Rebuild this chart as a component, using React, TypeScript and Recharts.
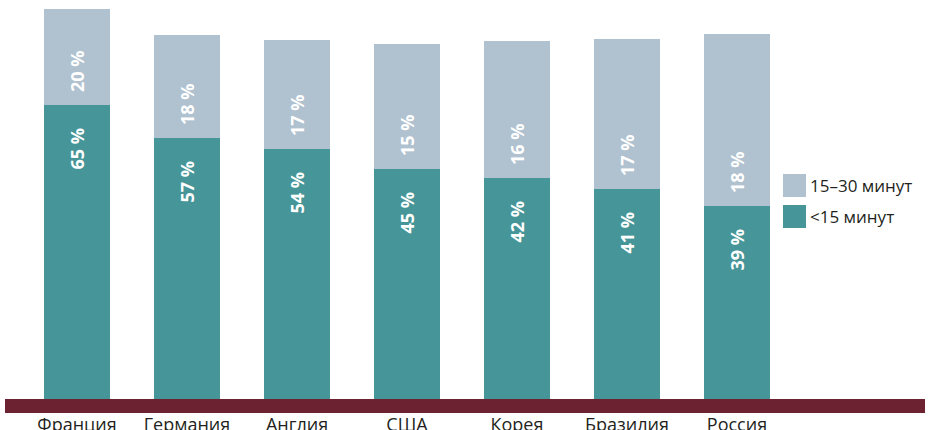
import React from 'react';
import { BarChart, Bar, XAxis, YAxis, Legend, LabelList } from 'recharts';

// Categories (countries)
const categories = ['Франция', 'Германия', 'Англия', 'США', 'Корея', 'Бразилия', 'Россия'];
// Drawn bar segment heights (the picture is not drawn to scale)
const under15Heights = [294, 261, 250, 230, 221, 210, 193];
const from15to30Heights = [96, 103, 109, 125, 137, 150, 172];
// Printed values
const under15Labels = ['65 %', '57 %', '54 %', '45 %', '42 %', '41 %', '39 %'];
const from15to30Labels = ['20 %', '18 %', '17 %', '15 %', '16 %', '17 %', '18 %'];
const seriesNames = ['<15 минут', '15–30 минут'];

const TEAL = '#469598';
const GREY = '#B0C1CF';
const MAROON = '#6C2230';
const FONT = '"Open Sans", "Noto Sans", sans-serif';

const data = categories.map((c, i) => ({
  name: c,
  low: under15Heights[i],
  high: from15to30Heights[i],
  lowLabel: under15Labels[i],
  highLabel: from15to30Labels[i],
}));

const LowLabel = (p: any) => {
  const cx = p.x + p.width / 2;
  const ty = p.y + 23;
  return (
    <text x={cx} y={ty} transform={`rotate(-90 ${cx} ${ty})`} textAnchor="end" dominantBaseline="central"
      fill="#fff" fontWeight={700} fontSize={18} fontFamily={FONT}>{p.value}</text>
  );
};

const HighLabel = (p: any) => {
  const cx = p.x + p.width / 2;
  const ty = p.y + p.height - 13;
  return (
    <text x={cx} y={ty} transform={`rotate(-90 ${cx} ${ty})`} textAnchor="start" dominantBaseline="central"
      fill="#fff" fontWeight={700} fontSize={18} fontFamily={FONT}>{p.value}</text>
  );
};

const CategoryTick = (p: any) => (
  <text x={p.x} y={p.y + 32} textAnchor="middle" fill="#231f20" fontSize={18} fontFamily={FONT}>
    {p.payload.value}
  </text>
);

const legendItems = [
  { label: seriesNames[1], color: GREY },
  { label: seriesNames[0], color: TEAL },
];

const LegendContent = () => (
  <div style={{ fontFamily: FONT, fontSize: 17, color: '#231f20' }}>
    {legendItems.map((it) => (
      <div key={it.label} style={{ display: 'flex', alignItems: 'center', height: 23, marginBottom: 8 }}>
        <div style={{ width: 23, height: 23, background: it.color, marginRight: 4 }} />
        <span style={{ lineHeight: '23px' }}>{it.label}</span>
      </div>
    ))}
  </div>
);

export default function App() {
  return (
    <div style={{ position: 'absolute', left: 0, top: 0, width: 932, height: 430, background: '#fff', overflow: 'hidden' }}>
      <BarChart width={932} height={430} data={data} margin={{ top: 9, right: 7, bottom: 0, left: 5 }}>
        <XAxis dataKey="name" height={7} axisLine={false} tickLine={false} tickSize={0} tickMargin={0}
          padding={{ left: 17, right: 133 }} tick={<CategoryTick />} interval={0} />
        <XAxis xAxisId="band" dataKey="name" height={24} tick={false} tickLine={false}
          axisLine={{ stroke: MAROON, strokeWidth: 14 }} />
        <YAxis hide domain={[0, 390]} />
        <Bar dataKey="low" stackId="a" fill={TEAL} barSize={66} isAnimationActive={false} name={seriesNames[0]}>
          <LabelList dataKey="lowLabel" content={<LowLabel />} />
        </Bar>
        <Bar dataKey="high" stackId="a" fill={GREY} barSize={66} isAnimationActive={false} name={seriesNames[1]}>
          <LabelList dataKey="highLabel" content={<HighLabel />} />
        </Bar>
        <Legend layout="vertical" align="center" verticalAlign="middle" content={<LegendContent />}
          wrapperStyle={{ left: 783, top: 174, width: 'auto', height: 'auto', margin: 0, padding: 0 }} />
      </BarChart>
    </div>
  );
}
